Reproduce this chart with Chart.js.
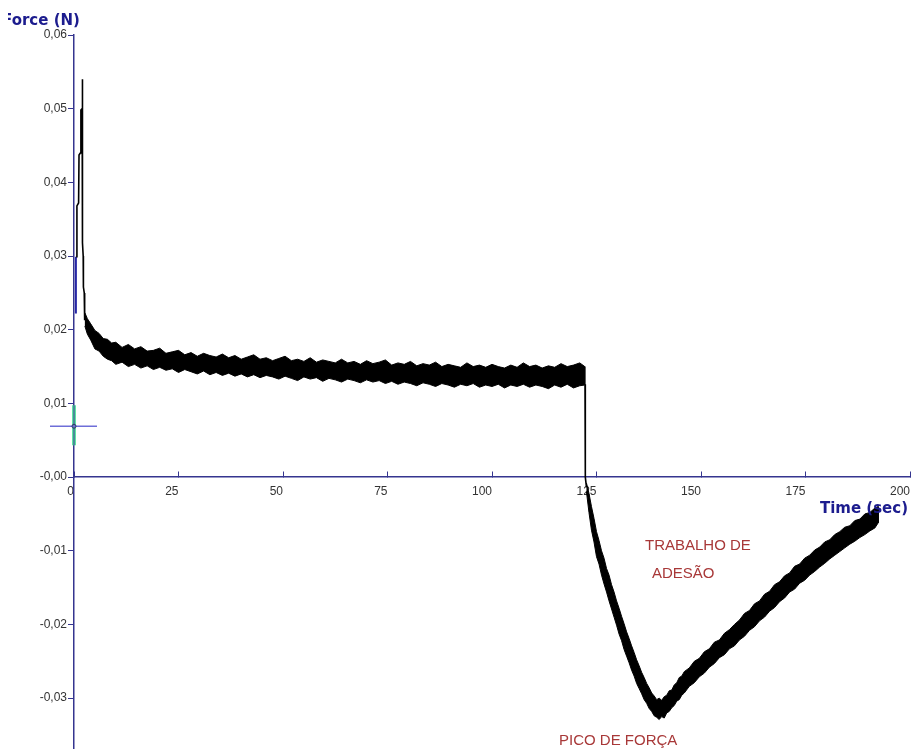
<!DOCTYPE html>
<html><head><meta charset="utf-8">
<script src="https://cdn.jsdelivr.net/npm/chart.js@4.4.0/dist/chart.umd.min.js"></script>
<style>html,body{margin:0;padding:0;background:#fff;overflow:hidden}canvas{display:block}</style>
</head><body>
<canvas id="c" width="913" height="749"></canvas>
<script>
// ---- tick labels ----
const xTickValues = [0, 25, 50, 75, 100, 125, 150, 175, 200];
const xTickLabels = ["0", "25", "50", "75", "100", "125", "150", "175", "200"];
const yTickValues = [-0.03, -0.02, -0.01, 0, 0.01, 0.02, 0.03, 0.04, 0.05, 0.06];
const yTickLabels = ["-0,03", "-0,02", "-0,01", "-0,00", "0,01", "0,02", "0,03", "0,04", "0,05", "0,06"];

// ---- initial loading spike (single trace) ----
const spikeTime  = [0.5, 0.7, 1.1, 1.2, 1.55, 1.65, 1.95, 2.0, 2.05, 2.2, 2.25, 2.45, 2.5, 2.6];
const spikeForce = [0.0299, 0.0368, 0.0372, 0.0437, 0.0440, 0.0498, 0.0500, 0.0540, 0.0318, 0.0300, 0.0258, 0.0250, 0.0217, 0.0213];
const startTime  = [0.45, 0.45];
const startForce = [0.0222, 0.0299];

// ---- noisy relaxation plateau: upper / lower envelope of the trace ----
const plateauTime = [2.6, 3.2, 4, 5, 6, 7, 8, 9, 10,
  11.5, 13, 14.5, 16, 17.5, 19, 20.5, 22, 23.5, 25, 26.5, 28, 29.5, 31, 32.5, 34, 35.5, 37, 38.5, 40,
  41.5, 43, 44.5, 46, 47.5, 49, 50.5, 52, 53.5, 55, 56.5, 58, 59.5, 61, 62.5, 64, 65.5, 67, 68.5, 70,
  71.5, 73, 74.5, 76, 77.5, 79, 80.5, 82, 83.5, 85, 86.5, 88, 89.5, 91, 92.5, 94, 95.5, 97, 98.5, 100,
  101.5, 103, 104.5, 106, 107.5, 109, 110.5, 112, 113.5, 115, 116.5, 118, 119.5, 121, 122.2];
const plateauUpper = [0.0223, 0.0215, 0.0208, 0.0199, 0.0195, 0.0188, 0.0187, 0.0182, 0.0183,
  0.0176, 0.0180, 0.0174, 0.0177, 0.0171, 0.0172, 0.0175, 0.0168, 0.0170, 0.0172, 0.0166, 0.0169, 0.0164, 0.0168, 0.0165, 0.0163, 0.0167, 0.0162, 0.0165, 0.0160,
  0.0163, 0.0166, 0.0160, 0.0162, 0.0158, 0.0161, 0.0164, 0.0158, 0.0160, 0.0157, 0.0162, 0.0156, 0.0159, 0.0157, 0.0155, 0.0160, 0.0155, 0.0157, 0.0153, 0.0158,
  0.0154, 0.0156, 0.0159, 0.0152, 0.0155, 0.0153, 0.0157, 0.0151, 0.0154, 0.0152, 0.0156, 0.0150, 0.0153, 0.0151, 0.0149, 0.0155, 0.0150, 0.0152, 0.0149, 0.0153,
  0.0150, 0.0148, 0.0152, 0.0149, 0.0155, 0.0150, 0.0152, 0.0148, 0.0151, 0.0149, 0.0154, 0.0150, 0.0152, 0.0155, 0.0150];
const plateauLower = [0.0205, 0.0194, 0.0186, 0.0174, 0.0171, 0.0164, 0.0160, 0.0158, 0.0153,
  0.0156, 0.0150, 0.0153, 0.0148, 0.0151, 0.0146, 0.0149, 0.0145, 0.0147, 0.0142, 0.0146, 0.0143, 0.0140, 0.0144, 0.0139, 0.0142, 0.0138, 0.0141, 0.0137, 0.0140,
  0.0136, 0.0139, 0.0135, 0.0138, 0.0136, 0.0133, 0.0137, 0.0134, 0.0131, 0.0136, 0.0133, 0.0135, 0.0130, 0.0134, 0.0132, 0.0129, 0.0133, 0.0131, 0.0128, 0.0132,
  0.0129, 0.0131, 0.0127, 0.0130, 0.0126, 0.0129, 0.0127, 0.0124, 0.0128, 0.0126, 0.0123, 0.0127, 0.0125, 0.0122, 0.0126, 0.0124, 0.0127, 0.0122, 0.0125, 0.0123,
  0.0126, 0.0121, 0.0125, 0.0123, 0.0126, 0.0122, 0.0125, 0.0123, 0.0120, 0.0125, 0.0122, 0.0126, 0.0121, 0.0124, 0.0125];

// ---- withdrawal: drop, adhesion peak and recovery ----
const dropTime  = [122.25, 122.3, 122.35, 122.6];
const dropForce = [0.0126, 0.0105, 0.0, -0.0014];
const pullTime = [122.6, 123.2, 123.8, 124.4, 125.0, 125.6, 126.2, 126.8, 127.4, 128.0,
  128.6, 129.2, 129.8, 130.4, 131.0, 131.6, 132.2, 132.8, 133.4, 134.0,
  134.6, 135.2, 135.8, 136.4, 137.0, 137.6, 138.2, 138.8, 139.4, 140.0,
  140.6, 141.2, 141.8, 142.4, 143.0, 143.6, 144.2, 144.8, 145.4, 146.0,
  147.2, 148.4, 149.6, 150.8, 152.0, 153.2, 154.4, 155.6, 156.8, 158.0,
  159.2, 160.4, 161.6, 162.8, 164.0, 165.2, 166.4, 167.6, 168.8, 170.0,
  171.2, 172.4, 173.6, 174.8, 176.0, 177.2, 178.4, 179.6, 180.8, 182.0,
  183.2, 184.4, 185.6, 186.8, 188.0, 189.2, 190.4, 191.6, 192.4];
const pullUpper = [-0.0008, -0.0022, -0.0040, -0.0056, -0.0074, -0.0086, -0.0100, -0.0110, -0.0124, -0.0133,
  -0.0146, -0.0156, -0.0168, -0.0178, -0.0189, -0.0199, -0.0210, -0.0219, -0.0229, -0.0238,
  -0.0248, -0.0256, -0.0265, -0.0272, -0.0280, -0.0286, -0.0293, -0.0297, -0.0302, -0.0300,
  -0.0303, -0.0298, -0.0296, -0.0290, -0.0289, -0.0282, -0.0279, -0.0272, -0.0270, -0.0264,
  -0.0259, -0.0250, -0.0246, -0.0237, -0.0233, -0.0224, -0.0221, -0.0212, -0.0207, -0.0200,
  -0.0194, -0.0185, -0.0181, -0.0172, -0.0168, -0.0159, -0.0155, -0.0146, -0.0142, -0.0134,
  -0.0130, -0.0121, -0.0118, -0.0110, -0.0106, -0.0099, -0.0095, -0.0088, -0.0085, -0.0078,
  -0.0074, -0.0068, -0.0066, -0.0059, -0.0057, -0.0050, -0.0048, -0.0042, -0.0040];
const pullLower = [-0.0020, -0.0048, -0.0072, -0.0088, -0.0108, -0.0118, -0.0133, -0.0145, -0.0156, -0.0168,
  -0.0179, -0.0190, -0.0201, -0.0213, -0.0222, -0.0234, -0.0243, -0.0252, -0.0262, -0.0270,
  -0.0280, -0.0287, -0.0294, -0.0302, -0.0307, -0.0314, -0.0318, -0.0324, -0.0326, -0.0329,
  -0.0325, -0.0327, -0.0320, -0.0318, -0.0313, -0.0310, -0.0304, -0.0302, -0.0296, -0.0293,
  -0.0284, -0.0279, -0.0271, -0.0266, -0.0258, -0.0253, -0.0245, -0.0241, -0.0233, -0.0229,
  -0.0221, -0.0216, -0.0208, -0.0203, -0.0195, -0.0190, -0.0182, -0.0177, -0.0169, -0.0164,
  -0.0156, -0.0152, -0.0144, -0.0140, -0.0133, -0.0128, -0.0122, -0.0117, -0.0111, -0.0106,
  -0.0101, -0.0096, -0.0091, -0.0087, -0.0082, -0.0078, -0.0073, -0.0069, -0.0062];

// ---- cursor marker ----
const cursorPoint = [0, 0.0069];

// ---- helpers ----
const pts = (xs, ys) => xs.map((t, i) => ({x: t, y: ys[i]}));
const band = (xs, up, lo) => pts(xs, up).concat(pts(xs, lo).reverse());

const AXIS = '#35358f';
const tickFont = {family: '"Liberation Sans", Arial, sans-serif', size: 12};

const overlay = {
  id: 'overlay',
  afterDraw(chart) {
    const {ctx, scales: {x, y}} = chart;
    const cx = x.getPixelForValue(cursorPoint[0]);
    const cy = y.getPixelForValue(cursorPoint[1]);
    ctx.save();
    ctx.strokeStyle = '#5fe3a3'; ctx.lineWidth = 4;
    ctx.beginPath(); ctx.moveTo(cx, cy - 21); ctx.lineTo(cx, cy + 19); ctx.stroke();
    ctx.strokeStyle = AXIS; ctx.lineWidth = 1;
    ctx.beginPath(); ctx.moveTo(cx, cy - 21); ctx.lineTo(cx, cy + 19); ctx.stroke();
    ctx.strokeStyle = '#6e6ed8'; ctx.lineWidth = 1.5;
    ctx.beginPath(); ctx.moveTo(cx - 24, cy); ctx.lineTo(cx + 23, cy); ctx.stroke();
    ctx.strokeStyle = '#33336a'; ctx.lineWidth = 1;
    ctx.beginPath(); ctx.arc(cx, cy, 2, 0, Math.PI * 2); ctx.stroke();

    // axis titles
    ctx.fillStyle = '#1c1c8e';
    ctx.font = 'bold 15px "DejaVu Sans", Verdana, sans-serif';
    ctx.textBaseline = 'alphabetic';
    ctx.save();
    ctx.beginPath(); ctx.rect(8, 0, 200, 40); ctx.clip();
    ctx.textAlign = 'left';
    ctx.fillText('Force (N)', 2, 25);
    ctx.restore();
    ctx.textAlign = 'right';
    ctx.fillText('Time (sec)', 908, 513);

    // annotations
    ctx.fillStyle = '#a83838';
    ctx.font = '15px "Liberation Sans", Arial, sans-serif';
    ctx.textAlign = 'left';
    ctx.fillText('TRABALHO DE', 645, 550);
    ctx.fillText('ADESÃO', 652, 578);
    ctx.fillText('PICO DE FORÇA', 559, 745);
    ctx.restore();
  }
};

const bandStyle = {showLine: true, fill: 'shape', backgroundColor: '#000', borderColor: '#000',
  borderWidth: 1, pointRadius: 0, tension: 0};
const lineStyle = {showLine: true, borderColor: '#000', borderWidth: 1.6, pointRadius: 0, tension: 0};

new Chart(document.getElementById('c'), {
  type: 'scatter',
  data: {
    datasets: [
      Object.assign({data: band(plateauTime, plateauUpper, plateauLower)}, bandStyle),
      Object.assign({data: band(pullTime, pullUpper, pullLower)}, bandStyle),
      Object.assign({data: pts(spikeTime, spikeForce)}, lineStyle),
      Object.assign({data: pts(dropTime, dropForce)}, lineStyle),
      Object.assign({data: pts(startTime, startForce)}, lineStyle, {borderColor: '#2525a5', borderWidth: 2})
    ]
  },
  options: {
    responsive: false,
    animation: false,
    devicePixelRatio: 1,
    layout: {padding: {left: 0, right: 3, top: 35, bottom: 0}},
    plugins: {legend: {display: false}, tooltip: {enabled: false}},
    scales: {
      x: {
        type: 'linear', min: 0, max: 200,
        position: {y: 0},
        grid: {drawOnChartArea: false, color: AXIS, tickLength: -6, lineWidth: 1},
        border: {color: AXIS, width: 1.5},
        ticks: {
          font: tickFont, color: '#333', padding: 13, align: 'end', maxRotation: 0, autoSkip: false,
          callback: (v) => { const i = xTickValues.indexOf(v); return i >= 0 ? xTickLabels[i] : ''; }
        },
        afterBuildTicks: (s) => { s.ticks = xTickValues.map(v => ({value: v})); },
        afterFit: (s) => { s.paddingLeft = 0; s.paddingRight = 0; }
      },
      y: {
        type: 'linear', min: -0.0369, max: 0.06,
        position: 'left',
        grid: {drawOnChartArea: false, color: AXIS, tickLength: 6, lineWidth: 1},
        border: {color: AXIS, width: 1.5},
        ticks: {
          font: tickFont, color: '#333', padding: 1, includeBounds: false,
          callback: (v) => { const i = yTickValues.findIndex(t => Math.abs(t - v) < 1e-9); return i >= 0 ? yTickLabels[i] : ''; }
        },
        afterBuildTicks: (s) => { s.ticks = yTickValues.map(v => ({value: v})); },
        afterFit: (s) => { s.width = 74; s.paddingTop = 0; s.paddingBottom = 0; }
      }
    }
  },
  plugins: [overlay]
});
</script>
</body></html>
